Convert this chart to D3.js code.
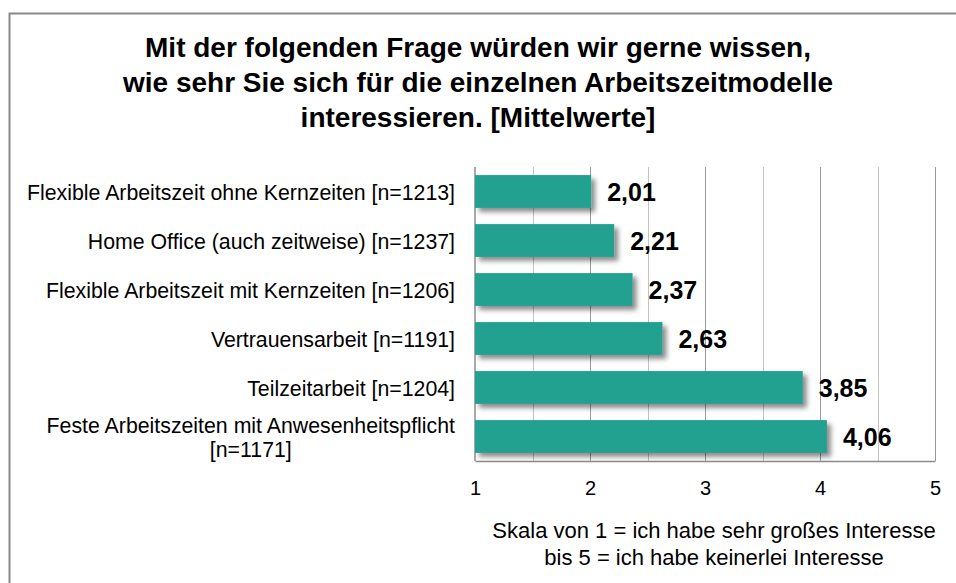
<!doctype html>
<html lang="de">
<head>
<meta charset="utf-8">
<title>Arbeitszeitmodelle - Mittelwerte</title>
<script src="https://d3js.org/d3.v7.min.js"></script>
<style>
  body { margin: 0; background: #fff; }
  text { font-family: Arial, "Liberation Sans", Helvetica, sans-serif; fill: #000; }
  .title { font-size: 28px; font-weight: bold; text-anchor: middle; }
  .cat { font-size: 21.3px; }
  .tick text { font-size: 20px; }
  .val { font-size: 25px; font-weight: bold; }
  .note { font-size: 22px; text-anchor: middle; }
</style>
</head>
<body>
<svg width="956" height="583"></svg>
<script>
  var categories = [
    ["Flexible Arbeitszeit ohne Kernzeiten [n=1213]"],
    ["Home Office (auch zeitweise) [n=1237]"],
    ["Flexible Arbeitszeit mit Kernzeiten [n=1206]"],
    ["Vertrauensarbeit [n=1191]"],
    ["Teilzeitarbeit [n=1204]"],
    ["Feste Arbeitszeiten mit Anwesenheitspflicht", "[n=1171]"]
  ];
  var values = [2.01, 2.21, 2.37, 2.63, 3.85, 4.06];
  var tickValues = [1, 2, 3, 4, 5];
  var titleLines = [
    "Mit der folgenden Frage würden wir gerne wissen,",
    "wie sehr Sie sich für die einzelnen Arbeitszeitmodelle",
    "interessieren. [Mittelwerte]"
  ];
  var noteLines = [
    "Skala von 1 = ich habe sehr großes Interesse",
    "bis 5 = ich habe keinerlei Interesse"
  ];

  var svg = d3.select("svg");
  var plotLeft = 475, plotRight = 935, plotTop = 167, plotBottom = 461;

  // frame
  svg.append("rect")
    .attr("x", 9.5).attr("y", 13.5)
    .attr("width", 960).attr("height", 600)
    .attr("fill", "none").attr("stroke", "#898989").attr("stroke-width", 2);

  // shadow filter
  var defs = svg.append("defs");
  defs.append("filter").attr("id", "shadow")
    .attr("x", "-5%").attr("y", "-20%").attr("width", "120%").attr("height", "160%")
    .append("feDropShadow")
    .attr("dx", 4).attr("dy", 4).attr("stdDeviation", 2.5)
    .attr("flood-color", "#000").attr("flood-opacity", 0.45);

  var x = d3.scaleLinear().domain([1, 5]).range([plotLeft, plotRight]);
  var y = d3.scaleBand().domain(d3.range(values.length)).range([plotTop, plotBottom]).paddingInner(0.33).paddingOuter(0.165);

  // title
  svg.append("g").selectAll("text").data(titleLines).enter().append("text")
    .attr("class", "title")
    .attr("x", 478).attr("y", function (d, i) { return 57 + i * 35; })
    .text(function (d) { return d; });

  // grid lines: minor then major
  var minor = d3.range(1.5, 5, 1);
  svg.append("g").selectAll("line").data(minor).enter().append("line")
    .attr("x1", function (d) { return Math.round(x(d)) + 0.5; })
    .attr("x2", function (d) { return Math.round(x(d)) + 0.5; })
    .attr("y1", plotTop).attr("y2", plotBottom)
    .attr("stroke", "#c4c4c4").attr("stroke-width", 1);
  svg.append("g").selectAll("line").data(tickValues.slice(1)).enter().append("line")
    .attr("x1", function (d) { return Math.round(x(d)) + 0.5; })
    .attr("x2", function (d) { return Math.round(x(d)) + 0.5; })
    .attr("y1", plotTop).attr("y2", plotBottom)
    .attr("stroke", "#9a9a9a").attr("stroke-width", 1);

  // axis
  var axis = svg.append("g")
    .attr("transform", "translate(0," + plotBottom + ")")
    .call(d3.axisBottom(x).tickValues(tickValues).tickSize(0).tickPadding(20).tickFormat(d3.format("d")));
  axis.select(".domain").attr("stroke", "#8c8c8c").attr("stroke-width", 1.5);
  axis.selectAll(".tick text").attr("font-family", null).attr("font-size", null);
  axis.attr("font-size", null).attr("font-family", null);

  svg.append("line")
    .attr("x1", plotLeft).attr("x2", plotLeft).attr("y1", plotTop).attr("y2", plotBottom)
    .attr("stroke", "#8c8c8c").attr("stroke-width", 1.5);

  // bars
  svg.append("g").selectAll("rect").data(values).enter().append("rect")
    .attr("x", x(1))
    .attr("y", function (d, i) { return y(i); })
    .attr("width", function (d) { return x(d) - x(1); })
    .attr("height", y.bandwidth())
    .attr("fill", "#22a190")
    .attr("filter", "url(#shadow)");

  // values
  svg.append("g").selectAll("text").data(values).enter().append("text")
    .attr("class", "val")
    .attr("x", function (d) { return x(d) + 16; })
    .attr("y", function (d, i) { return y(i) + y.bandwidth() / 2 + 9; })
    .text(function (d) { return d.toFixed(2).replace(".", ","); });

  // category labels (right-aligned; wrapped ones centred on their widest line)
  var labelRight = 455, lineGap = 24;
  svg.append("g").selectAll("text").data(categories).enter().append("text")
    .attr("class", "cat")
    .each(function (d, i) {
      var t = d3.select(this);
      var base = y(i) + y.bandwidth() / 2 + 8 - (d.length - 1) * lineGap / 2;
      var spans = t.selectAll("tspan").data(d).enter().append("tspan")
        .attr("y", function (s, j) { return base + j * lineGap; })
        .text(function (s) { return s; });
      var w = d3.max(spans.nodes(), function (n) { return n.getComputedTextLength(); });
      spans.attr("text-anchor", "middle").attr("x", labelRight - w / 2);
    });

  // note
  svg.append("g").selectAll("text").data(noteLines).enter().append("text")
    .attr("class", "note")
    .attr("x", 714).attr("y", function (d, i) { return 538 + i * 27; })
    .text(function (d) { return d; });
</script>
</body>
</html>
